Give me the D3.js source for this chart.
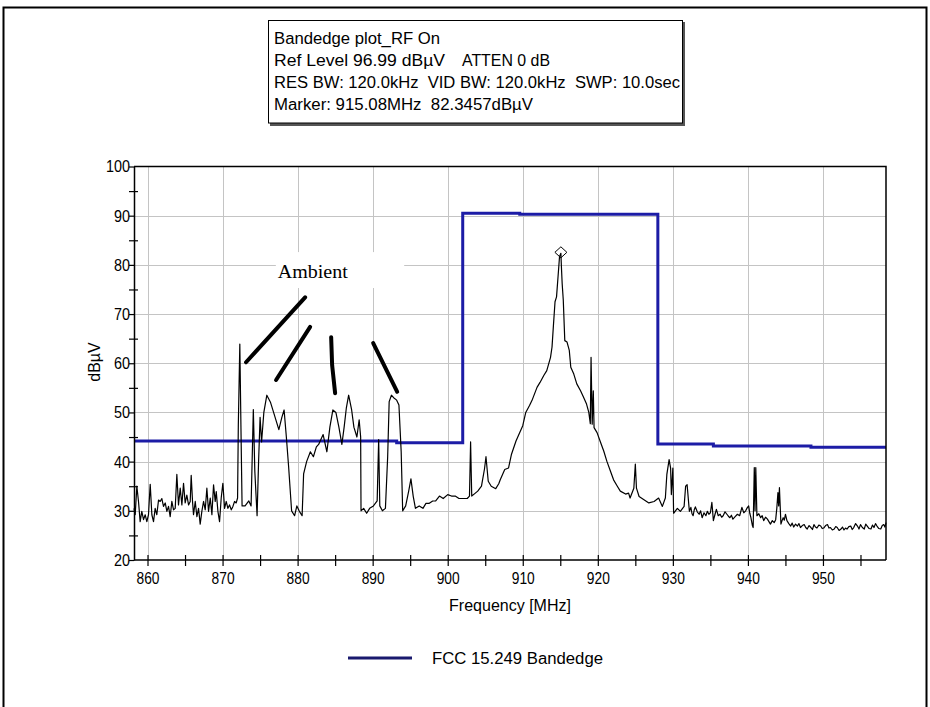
<!DOCTYPE html>
<html>
<head>
<meta charset="utf-8">
<script src="https://cdn.jsdelivr.net/npm/d3@7"></script>
<style>
	body { margin: 0; background: #fff; }
	svg { display: block; }
	text { font-family: "Liberation Sans", Arial, sans-serif; white-space: pre; }
</style>
</head>
<body>
<svg id="bandedge-plot" width="930" height="707" viewBox="0 0 930 707"></svg>
<script>

// measured trace (RF on), frequency in MHz and level in dBuV
const trace_freq = [
	858.2, 858.36, 858.58, 858.8, 859.02, 859.24, 859.47, 859.69, 859.91, 860.13, 860.36, 860.58, 860.8,
	861.02, 861.24, 861.47, 861.69, 861.91, 862.13, 862.36, 862.58, 862.8, 863.02, 863.24, 863.47, 863.69,
	863.91, 864.13, 864.36, 864.58, 864.8, 865.02, 865.24, 865.47, 865.69, 865.82, 866.0, 866.13, 866.36,
	866.58, 866.8, 867.02, 867.24, 867.47, 867.69, 867.91, 868.13, 868.36, 868.58, 868.8, 869.02, 869.16,
	869.38, 869.6, 869.82, 870.04, 870.27, 870.49, 870.71, 870.93, 871.16, 871.38, 871.6, 871.82, 872.0,
	872.1, 872.3, 872.45, 872.6, 873.0, 873.5, 873.8,
	874.1, 874.3, 874.6, 874.8, 875.0, 875.2, 875.5, 875.9, 876.4, 876.8, 877.5, 877.9, 878.2, 878.5,
	878.8, 879.2, 879.6, 879.9, 880.2, 880.6, 880.8, 881.2, 881.7, 882.1, 882.5, 882.8, 883.4, 883.9,
	884.3, 884.7, 885.1, 885.5, 885.9, 886.2, 886.5, 886.8, 887.2, 887.5, 887.9, 888.2, 888.4, 888.45,
	888.8, 889.2, 889.6, 890.1, 890.6, 890.8, 890.95, 891.3, 891.7, 892.0, 892.2, 892.5, 892.8, 893.2,
	893.5, 893.8, 894.0, 894.4, 894.8, 895.1, 895.4, 895.7, 896.2, 896.7, 897.1, 897.5, 898.0, 898.4,
	898.9, 899.4, 900.0, 900.5, 901.0, 901.5, 902.0, 902.6, 902.9, 903.05, 903.2, 903.6, 904.0, 904.5,
	904.9, 905.1, 905.4, 905.8, 906.4, 906.8, 907.0, 907.6, 908.1, 908.5, 909.1, 909.6, 910.0, 910.4,
	910.9, 911.3, 911.9, 912.3, 912.8, 913.2, 913.7, 913.9, 914.1, 914.3, 914.5, 914.7, 914.9, 915.08,
	915.15, 915.25, 915.4, 915.6, 915.9, 916.2, 916.4, 916.8, 917.2, 917.7, 918.1, 918.5, 918.8, 919.0,
	919.1, 919.25, 919.4, 919.5, 919.9, 920.3, 920.8, 921.2, 921.7, 922.1, 922.6, 923.0, 923.7, 924.1,
	924.3, 924.8, 925.0, 925.15, 925.5, 926.1, 926.8, 927.5, 928.1, 928.6, 929.0, 929.2, 929.5, 929.7,
	929.8, 930.0, 930.1, 930.6, 931.0, 931.5, 931.7, 931.9,
	932.2, 932.4, 932.55, 932.7, 932.85, 933.0, 933.25, 933.5, 933.7, 933.9, 934.15, 934.4, 934.6, 934.8,
	935.0, 935.2, 935.4, 935.6, 935.8, 936.05, 936.3, 936.5, 936.7, 936.95, 937.2, 937.4, 937.6, 937.8,
	938.0, 938.3, 938.6, 938.9, 939.2, 939.45, 939.7, 939.9, 940.1, 940.25, 940.4, 940.6, 940.7, 940.85,
	940.95, 941.05, 941.2, 941.45, 941.7, 941.9, 942.1, 942.35, 942.6, 942.8, 943.0, 943.25, 943.5, 943.7,
	943.85, 944.0, 944.1, 944.2, 944.4, 944.55, 944.7, 944.85, 945.0, 945.2, 945.45, 945.7, 945.9, 946.1,
	946.35, 946.6, 946.8, 947.0, 947.25, 947.5, 947.7, 947.9, 948.15, 948.4, 948.6, 948.8, 949.0, 949.2,
	949.45, 949.7, 949.9, 950.1, 950.35, 950.6, 950.8, 951.0, 951.25, 951.5, 951.7, 951.9, 952.15, 952.4,
	952.6, 952.8, 953.0, 953.2, 953.45, 953.7, 953.9, 954.1, 954.35, 954.6, 954.8, 955.0, 955.25, 955.5,
	955.7, 955.9, 956.15, 956.4, 956.6, 956.8, 957.0, 957.2, 957.45, 957.7, 957.9, 958.1, 958.25, 958.4
];
const trace_level = [
	30.5, 29.2, 35.0, 31.9, 27.8, 29.9, 28.2, 29.2, 27.8, 29.2, 35.4, 29.2, 27.8,
	30.5, 29.2, 32.2, 31.9, 32.5, 30.9, 31.6, 29.9, 30.9, 28.8, 31.9, 30.2, 30.5,
	37.4, 31.2, 34.6, 31.2, 35.6, 31.6, 33.2, 31.2, 31.9, 37.2, 31.9, 29.2, 31.9,
	28.8, 30.5, 27.3, 29.9, 31.9, 30.2, 34.6, 29.9, 32.6, 29.2, 35.3, 31.9, 33.9,
	29.9, 27.8, 32.6, 35.6, 30.5, 31.9, 30.5, 31.2, 30.2, 30.9, 31.9, 31.6, 32.6,
	47.5, 63.9, 47.0, 31.0, 31.0, 32.0, 31.0,
	50.6, 38.0, 29.0, 40.0, 49.0, 44.0, 50.0, 53.5, 52.0, 50.0, 46.5, 49.0, 50.5, 45.0,
	39.0, 30.0, 29.0, 31.0, 30.0, 29.0, 37.5, 40.0, 42.0, 41.0, 43.0, 43.5, 45.5, 42.0,
	47.0, 50.5, 50.0, 47.0, 43.5, 47.0, 51.0, 53.5, 50.5, 47.0, 45.0, 48.5, 45.0, 30.0,
	30.5, 29.5, 30.5, 31.0, 32.0, 44.5, 31.0, 30.0, 30.5, 41.0, 52.2, 53.5, 53.0, 52.5,
	51.5, 42.0, 30.0, 31.0, 34.0, 36.5, 33.0, 30.5, 31.0, 30.5, 31.5, 31.5, 32.0, 32.0,
	33.0, 32.5, 33.3, 33.0, 33.0, 32.5, 32.5, 32.5, 33.0, 44.0, 33.0, 33.5, 34.0, 35.0,
	38.5, 41.0, 36.0, 35.0, 34.5, 35.5, 36.3, 38.4, 38.7, 41.5, 44.2, 45.9, 47.3, 50.0,
	51.4, 52.7, 55.1, 56.1, 57.5, 58.5, 61.2, 63.3, 68.0, 72.5, 73.5, 77.6, 81.7, 82.35,
	79.6, 76.2, 72.8, 64.6, 64.3, 62.6, 59.2, 57.8, 55.8, 54.4, 53.1, 51.7, 50.0, 47.7,
	61.2, 47.6, 54.4, 46.9, 45.9, 44.2, 42.1, 40.1, 38.0, 36.3, 35.0, 34.0, 33.4, 33.6,
	32.6, 34.6, 39.5, 34.6, 32.9, 32.3, 31.6, 31.9, 32.6, 30.9, 32.6, 37.4, 40.4, 38.7,
	33.3, 38.7, 29.5, 30.5, 29.9, 30.9, 35.0, 35.3,
	29.9, 30.7, 29.4, 29.0, 30.2, 30.8, 29.8, 29.3, 30.0, 28.6, 29.6, 29.0, 29.9, 29.3,
	29.6, 31.7, 28.0, 29.2, 30.3, 29.0, 29.3, 28.7, 29.0, 29.8, 29.3, 28.9, 28.6, 29.1,
	28.3, 28.8, 29.3, 29.0, 30.7, 29.6, 30.0, 30.6, 31.0, 29.5, 28.6, 27.0, 26.6, 38.8,
	30.0, 38.8, 29.0, 29.4, 28.6, 29.0, 28.0, 28.7, 28.3, 27.8, 27.3, 28.0, 27.6, 28.2,
	30.5, 33.7, 31.0, 34.7, 27.3, 28.0, 28.6, 28.1, 29.3, 28.0, 27.4, 26.9, 27.5, 26.7,
	27.3, 26.9, 27.4, 26.6, 27.0, 27.2, 26.6, 26.3, 27.0, 26.6, 26.2, 27.2, 26.7, 26.5,
	27.1, 26.9, 26.4, 26.5, 27.0, 27.2, 26.5, 26.6, 26.1, 26.3, 26.8, 26.6, 26.0, 26.3,
	26.7, 26.1, 26.5, 26.3, 26.8, 26.9, 26.2, 26.6, 27.4, 26.9, 26.3, 27.2, 26.6, 26.3,
	27.3, 26.9, 26.4, 26.3, 27.1, 26.6, 27.4, 26.9, 26.4, 26.3, 27.0, 27.2, 26.7, 27.6
];

// FCC 15.249 limit, stepped
const limit_freq  = [858.2, 893.2, 902.0, 909.6, 928.0, 935.4, 948.4, 958.4];
const limit_level = [44.2, 43.85, 90.5, 90.3, 43.6, 43.2, 42.9, 42.9];

const marker = { freq: 915.08, level: 82.35 };

const x_ticks = [860, 870, 880, 890, 900, 910, 920, 930, 940, 950];
const y_ticks = [20, 30, 40, 50, 60, 70, 80, 90, 100];

// info box text: [text, x, line, width]
const info_lines = [
	["Bandedge plot_RF On", 274, 0, 166],
	["Ref Level 96.99 dB\u00b5V", 274, 1, 171],
	["ATTEN 0 dB", 462, 1, 88],
	["RES BW: 120.0kHz  VID BW: 120.0kHz  SWP: 10.0sec", 274, 2, 406],
	["Marker: 915.08MHz  82.3457dB\u00b5V", 274, 3, 259]
];

// hand drawn "Ambient" pointers, in data units [freq, level]
const ambient_strokes = [
	[[873.13, 60.2], [881.0, 73.4]],
	[[877.13, 56.6], [881.67, 67.4]],
	[[884.47, 65.3], [884.6, 59.6], [885.0, 53.9]],
	[[890.07, 64.1], [893.27, 54.2]]
];


class BandedgePlot {

	constructor(svg_element_id) {
		this.svg = d3.select('#' + svg_element_id);

		const left = 134, right = 886, top = 166.5, bottom = 560;

		const x = d3.scaleLinear().domain([858.2, 958.4]).range([left, right]);
		const y = d3.scaleLinear().domain([20, 100]).range([bottom, top]);

		// outer frame
		this.svg.append("path")
			.attr("d", "M3.5,707 V7.5 H926.5 V707")
			.attr("fill", "none").attr("stroke", "#000").attr("stroke-width", 2);

		// info box
		const box = this.svg.append("g");
		box.append("rect").attr("x", 270).attr("y", 22).attr("width", 415).attr("height", 104).attr("fill", "#555");
		box.append("rect").attr("x", 268.5).attr("y", 20.5).attr("width", 414).attr("height", 102.5)
			.attr("fill", "#fff").attr("stroke", "#000").attr("stroke-width", 1);
		box.selectAll("text.info")
			.data(info_lines)
			.enter().append("text")
			.attr("class", "info")
			.attr("x", d => d[1])
			.attr("y", d => 44 + d[2] * 22)
			.attr("textLength", d => d[3])
			.attr("lengthAdjust", "spacingAndGlyphs")
			.style("font-size", "16px")
			.text(d => d[0]);

		// grid
		const grid = this.svg.append("g").attr("stroke", "#c4c4c4").attr("stroke-width", 1);
		grid.selectAll("line.v")
			.data(x_ticks)
			.enter().append("line")
			.attr("x1", d => Math.round(x(d)) + 0.5).attr("x2", d => Math.round(x(d)) + 0.5)
			.attr("y1", top).attr("y2", bottom);
		grid.selectAll("line.h")
			.data(y_ticks.slice(1, -1))
			.enter().append("line")
			.attr("y1", d => Math.round(y(d)) + 0.5).attr("y2", d => Math.round(y(d)) + 0.5)
			.attr("x1", left).attr("x2", right);

		// white patch behind the annotation text
		this.svg.append("rect")
			.attr("x", x(877.1)).attr("y", y(82.6))
			.attr("width", x(894.2) - x(877.1)).attr("height", y(75.3) - y(82.6))
			.attr("fill", "#fff");

		// limit line
		const limit_data = d3.zip(limit_freq, limit_level);
		this.svg.append("path")
			.datum(limit_data)
			.attr("fill", "none")
			.attr("stroke", "#1c1ca6")
			.attr("stroke-width", 3)
			.attr("d", d3.line().x(d => x(d[0])).y(d => y(d[1])).curve(d3.curveStepAfter));

		// trace
		const trace_data = d3.zip(trace_freq, trace_level);
		this.svg.append("path")
			.datum(trace_data)
			.attr("fill", "none")
			.attr("stroke", "#000")
			.attr("stroke-width", 1.2)
			.attr("stroke-linejoin", "round")
			.attr("d", d3.line().x(d => x(d[0])).y(d => y(d[1])));

		// marker diamond
		const mx = x(marker.freq), my = y(marker.level) - 1;
		this.svg.append("path")
			.attr("d", `M${mx},${my - 5.5} L${mx + 6},${my} L${mx},${my + 5.5} L${mx - 6},${my} Z`)
			.attr("fill", "none").attr("stroke", "#000").attr("stroke-width", 1);

		// annotation
		this.svg.append("text")
			.attr("x", x(877.35)).attr("y", y(77.4))
			.attr("textLength", 70).attr("lengthAdjust", "spacingAndGlyphs")
			.style("font-family", "Liberation Serif, serif").style("font-size", "19px")
			.text("Ambient");
		this.svg.selectAll("path.pointer")
			.data(ambient_strokes)
			.enter().append("path")
			.attr("class", "pointer")
			.attr("fill", "none").attr("stroke", "#000")
			.attr("stroke-width", 4).attr("stroke-linecap", "round")
			.attr("d", d3.line().x(d => x(d[0])).y(d => y(d[1])));

		// plot frame (top/right) and axes
		this.svg.append("path")
			.attr("d", `M${left},${top} H${right} V${bottom}`)
			.attr("fill", "none").attr("stroke", "#000").attr("stroke-width", 1.5);

		const x_axis = d3.axisBottom(x)
			.tickValues(d3.range(860, 956, 5))
			.tickSize(5).tickSizeOuter(0)
			.tickFormat(d => x_ticks.includes(d) ? d : "");
		const gx = this.svg.append("g")
			.attr("transform", `translate(0,${bottom})`)
			.call(x_axis);
		gx.select(".domain").attr("stroke-width", 1.5).attr("d", `M${left},0H${right}`);
		gx.selectAll(".tick line").attr("y1", -5).attr("y2", 6).attr("stroke-width", 1.2);
		gx.selectAll(".tick text")
			.attr("y", 12).attr("dy", "0.71em")
			.attr("textLength", 23).attr("lengthAdjust", "spacingAndGlyphs")
			.style("font-size", "17px").style("font-family", "Liberation Sans, sans-serif")
			.attr("fill", "#000");

		const y_axis = d3.axisLeft(y)
			.tickValues(d3.range(20, 101, 5))
			.tickSize(5).tickSizeOuter(0)
			.tickFormat(d => y_ticks.includes(d) ? d : "");
		const gy = this.svg.append("g")
			.attr("transform", `translate(${left},0)`)
			.call(y_axis);
		gy.select(".domain").attr("stroke-width", 1.5);
		gy.selectAll(".tick line").attr("x2", -5).attr("x1", d => y_ticks.includes(d) ? 0 : 4).attr("stroke-width", 1.2);
		gy.selectAll(".tick text")
			.attr("x", -4)
			.attr("textLength", d => y_ticks.includes(d) ? String(d).length * 8 : null)
			.attr("lengthAdjust", "spacingAndGlyphs")
			.style("font-size", "17px").style("font-family", "Liberation Sans, sans-serif")
			.attr("fill", "#000");

		// axis titles
		this.svg.append("text")
			.attr("x", 510).attr("y", 611)
			.attr("text-anchor", "middle").style("font-size", "16px")
			.text("Frequency [MHz]");
		this.svg.append("text")
			.attr("transform", "translate(100,362) rotate(-90)")
			.attr("text-anchor", "middle").style("font-size", "16px")
			.text("dB\u00b5V");

		// legend
		this.svg.append("line")
			.attr("x1", 348).attr("x2", 412).attr("y1", 658).attr("y2", 658)
			.attr("stroke", "#1a1a6e").attr("stroke-width", 3);
		this.svg.append("text")
			.attr("x", 432).attr("y", 664)
			.attr("textLength", 171).attr("lengthAdjust", "spacingAndGlyphs")
			.style("font-size", "16px")
			.text("FCC 15.249 Bandedge");
	}
}

function whenDocumentLoaded(action) {
	if (document.readyState === "loading") {
		document.addEventListener("DOMContentLoaded", action);
	} else {
		action();
	}
}

whenDocumentLoaded(() => {
	plot_object = new BandedgePlot('bandedge-plot');
});
</script>
</body>
</html>
